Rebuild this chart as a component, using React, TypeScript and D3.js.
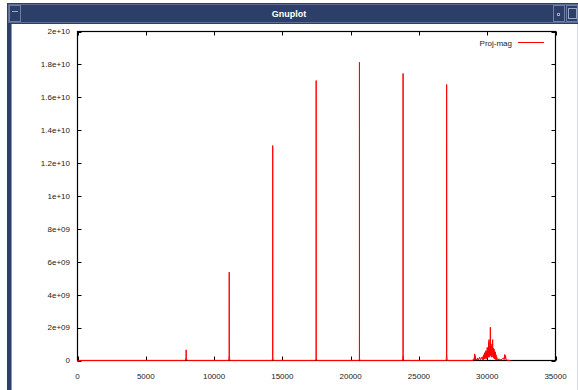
import React from 'react'
import * as d3 from 'd3'

const W = 578
const H = 390

// sampled magnitude of the "Proj-mag" series (frequency bins, magnitude)
const freq = [
  0, 7900, 7950, 7955, 7960, 8010,
  11070, 11105, 11110, 11115, 11150,
  14255, 14290, 14295, 14300, 14335,
  17435, 17470, 17475, 17480, 17515,
  20610, 20640, 20645, 20650, 20680,
  23800, 23835, 23840, 23845, 23880,
  26990, 27025, 27030, 27035, 27070,
  28950, 29000, 29040, 29080, 29100, 29120, 29150, 29200, 29250, 29300,
  29350, 29400, 29450, 29500, 29550, 29600, 29650, 29700, 29725, 29750,
  29775, 29800, 29825, 29850, 29875, 29900, 29925, 29950, 29975, 30000,
  30025, 30050, 30075, 30100, 30115, 30130, 30150, 30175, 30200, 30230,
  30255, 30280, 30305, 30330, 30355, 30380, 30400, 30425, 30450, 30475,
  30500, 30525, 30550, 30575, 30600, 30625, 30650, 30675, 30700, 30750,
  30800, 30850, 30900, 31000, 31100, 31200, 31240, 31280, 31310, 31340,
  31380, 31450, 31700,
]
const mag = [
  0, 0, 0.2e9, 0.65e9, 0.2e9, 0,
  0, 0.36e9, 5.37e9, 0.36e9, 0,
  0, 0.15e9, 13.07e9, 0.15e9, 0,
  0, 0.15e9, 17.02e9, 0.15e9, 0,
  0, 0.12e9, 18.13e9, 0.12e9, 0,
  0, 0.45e9, 17.45e9, 0.45e9, 0,
  0, 0.4e9, 16.78e9, 0.4e9, 0,
  0, 0.1e9, 0.02e9, 0.4e9, 0.05e9, 0.3e9, 0.02e9, 0.1e9, 0.02e9, 0.15e9,
  0.03e9, 0.1e9, 0.2e9, 0.05e9, 0.12e9, 0.2e9, 0.05e9, 0.25e9, 0.05e9, 0.35e9,
  0.1e9, 0.45e9, 0.1e9, 0.5e9, 0.15e9, 0.6e9, 0.1e9, 0.55e9, 0.2e9, 0.8e9,
  0.15e9, 0.7e9, 0.2e9, 1.1e9, 0.3e9, 1.27e9, 0.2e9, 0.9e9, 0.3e9, 2.02e9,
  0.3e9, 1.0e9, 0.2e9, 0.85e9, 0.25e9, 1.1e9, 1.27e9, 0.2e9, 0.75e9, 0.15e9,
  0.7e9, 0.1e9, 0.55e9, 0.1e9, 0.5e9, 0.05e9, 0.35e9, 0.05e9, 0.2e9, 0.05e9,
  0.1e9, 0.02e9, 0.08e9, 0.03e9, 0.1e9, 0.15e9, 0.05e9, 0.36e9, 0.1e9, 0.3e9,
  0.05e9, 0.02e9, 0,
]

const xTicks = [0, 5000, 10000, 15000, 20000, 25000, 30000, 35000]
const xTickLabels = ['0', '5000', '10000', '15000', '20000', '25000', '30000', '35000']
const yTicks = [0, 2e9, 4e9, 6e9, 8e9, 1e10, 1.2e10, 1.4e10, 1.6e10, 1.8e10, 2e10]
const yTickLabels = ['0', '2e+09', '4e+09', '6e+09', '8e+09', '1e+10', '1.2e+10', '1.4e+10', '1.6e+10', '1.8e+10', '2e+10']

const seriesName = 'Proj-mag'
const windowTitle = 'Gnuplot'

const navy = '#2c3f68'
const font = '"Liberation Sans", Arial, sans-serif'

const App = () => {
  const x = d3.scaleLinear().domain([0, 35000]).range([77.5, 555.5])
  const y = d3.scaleLinear().domain([0, 2e10]).range([360.5, 31.5])

  const line = d3
    .line<number>()
    .x(i => x(freq[i]))
    .y(i => y(mag[i]))

  const [x0, x1] = x.range()
  const [y0, y1] = y.range()
  const tick = 4

  return (
    <svg
      width={W}
      height={H}
      style={{ position: 'absolute', left: 0, top: 0, background: '#fff' }}
    >
      {/* window frame */}
      <rect x={0} y={0} width={W} height={H} fill="#fff" />
      <rect x={7} y={3} width={W - 7} height={21} fill={navy} />
      <rect x={8.5} y={4.5} width={W - 9} height={18} fill="none" stroke="#5d6d93" />
      <rect x={7} y={24} width={4} height={H - 24} fill={navy} />
      <line x1={11.5} y1={24} x2={11.5} y2={H} stroke="#8c97b3" />
      <line x1={577.5} y1={24} x2={577.5} y2={H} stroke="#d8dbe2" />
      <rect x={9.5} y={5.5} width={11} height={16} fill="none" stroke="#6f7ea3" />
      <line x1={12} y1={11.5} x2={18} y2={11.5} stroke="#9aa6c2" />
      <rect x={553.5} y={5.5} width={11} height={16} fill="none" stroke="#6f7ea3" />
      <rect x={557.5} y={13.5} width={2} height={2} fill="none" stroke="#9aa6c2" />
      <rect x={566.5} y={5.5} width={11} height={16} fill="none" stroke="#6f7ea3" />
      <rect x={568.5} y={8.5} width={8} height={10} fill="none" stroke="#9aa6c2" />
      <text
        x={289}
        y={17}
        textAnchor="middle"
        fontFamily={font}
        fontWeight="bold"
        fontSize={9}
        fill="#fff"
      >
        {windowTitle}
      </text>

      {/* ticks, mirrored inside on all four sides */}
      <g stroke="#000" strokeWidth={1}>
        {yTicks.map((t, i) => (
          <g key={'y' + i}>
            <line x1={x0} x2={x0 + tick} y1={Math.round(y(t)) + 0.5} y2={Math.round(y(t)) + 0.5} />
            <line x1={x1} x2={x1 - tick} y1={Math.round(y(t)) + 0.5} y2={Math.round(y(t)) + 0.5} />
          </g>
        ))}
        {xTicks.map((t, i) => (
          <g key={'x' + i}>
            <line x1={Math.round(x(t)) + 0.5} x2={Math.round(x(t)) + 0.5} y1={y0} y2={y0 - tick} />
            <line x1={Math.round(x(t)) + 0.5} x2={Math.round(x(t)) + 0.5} y1={y1} y2={y1 + tick} />
          </g>
        ))}
      </g>
      <rect x={x0} y={y1} width={x1 - x0} height={y0 - y1} fill="none" stroke="#000" strokeWidth={1.2} />

      {/* tick labels */}
      <g fontFamily={font} fontSize={8} fill="#222">
        {yTicks.map((t, i) => (
          <text key={'yl' + i} x={70} y={y(t)} dy="0.35em" textAnchor="end">
            {yTickLabels[i]}
          </text>
        ))}
        {xTicks.map((t, i) => (
          <text key={'xl' + i} x={x(t)} y={379} textAnchor="middle">
            {xTickLabels[i]}
          </text>
        ))}
      </g>

      {/* data */}
      <path
        d={line(d3.range(freq.length)) || ''}
        fill="none"
        stroke="#ff0000"
        strokeWidth={1}
        strokeLinejoin="round"
      />

      {/* key */}
      <text x={512} y={43} dy="0.35em" textAnchor="end" fontFamily={font} fontSize={8} fill="#222">
        {seriesName}
      </text>
      <line x1={518} x2={544} y1={42.5} y2={42.5} stroke="#ff0000" strokeWidth={1} />
    </svg>
  )
}

export default App
